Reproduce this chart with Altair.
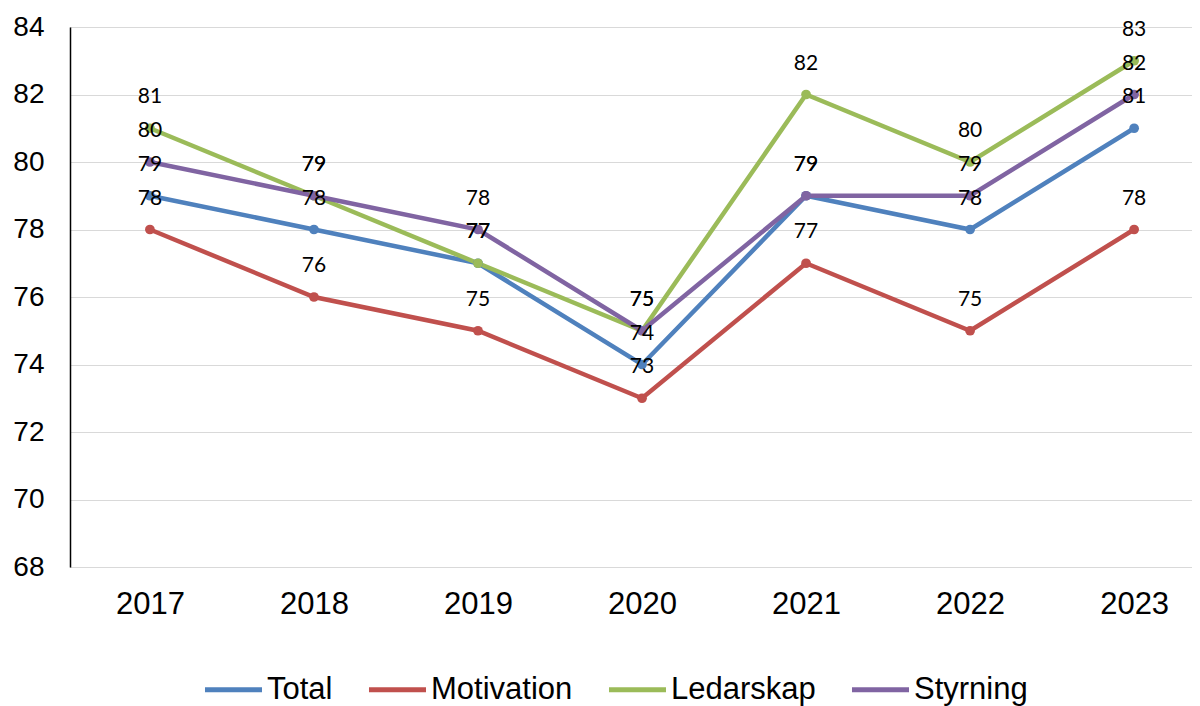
import altair as alt
import pandas as pd

years = ["2017", "2018", "2019", "2020", "2021", "2022", "2023"]
series = ["Total", "Motivation", "Ledarskap", "Styrning"]
total = [79, 78, 77, 74, 79, 78, 81]
motivation = [78, 76, 75, 73, 77, 75, 78]
ledarskap = [81, 79, 77, 75, 82, 80, 83]
styrning = [80, 79, 78, 75, 79, 79, 82]
colors = ["#4F81BD", "#C0504D", "#9BBB59", "#8064A2"]

rows = []
for name, vals in zip(series, [total, motivation, ledarskap, styrning]):
    for i, (y, v) in enumerate(zip(years, vals)):
        rows.append({"Year": y, "Serie": name, "Value": v, "order": series.index(name)})
df = pd.DataFrame(rows)

x_enc = alt.X("Year:O", sort=years,
              scale=alt.Scale(type="point", padding=0.42, align=0.58),
              axis=alt.Axis(title=None, labelAngle=0, domain=False, ticks=False, grid=False,
                            labelFont="Liberation Sans", labelFontSize=31, labelColor="#000000",
                            labelPadding=22))
y_enc = alt.Y("Value:Q",
              scale=alt.Scale(domain=[68, 84], nice=False, zero=False),
              axis=alt.Axis(title=None, values=list(range(68, 85, 2)), ticks=False,
                            domain=True, domainColor="#000000", domainWidth=1.5,
                            grid=True, gridColor="#D9D9D9", gridWidth=1.2,
                            labelFont="Liberation Sans", labelFontSize=28, labelColor="#000000",
                            labelPadding=26))
color_enc = alt.Color("Serie:N", sort=series,
                      scale=alt.Scale(domain=series, range=colors),
                      legend=alt.Legend(title=None, orient="none", direction="horizontal",
                                        legendX=132, legendY=631,
                                        symbolType="stroke", symbolStrokeWidth=5,
                                        symbolSize=3250, columnPadding=25, labelOffset=2,
                                        labelFont="Liberation Sans", labelFontSize=31,
                                        labelColor="#000000", padding=0))

base = alt.Chart(df)
lines = base.mark_line(strokeWidth=4.5, point=alt.OverlayMarkDef(size=95, filled=True)).encode(
    x=x_enc, y=y_enc, color=color_enc, order="order:Q", detail="Serie:N")
labels = base.mark_text(dy=-31, font="Lato", fontSize=21, color="#000000", baseline="middle").encode(
    x=alt.X("Year:O", sort=years), y="Value:Q", text="Value:Q", detail="Serie:N")

chart = alt.layer(lines, labels).properties(
    width=1122, height=540,
    autosize=alt.AutoSizeParams(type="none"),
    padding={"left": 62, "top": 19, "right": 0, "bottom": 139},
).configure_view(stroke=None).configure(background="#FFFFFF")

chart.save("out.html", embed_options={"renderer": "svg", "actions": False})
